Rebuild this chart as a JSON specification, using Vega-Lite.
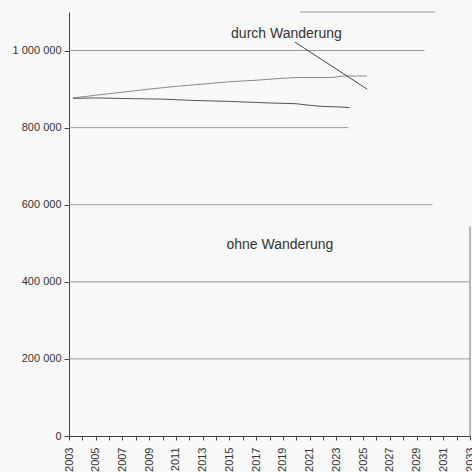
{
  "$schema": "https://vega.github.io/schema/vega-lite/v6.json",
  "width": 401,
  "height": 424,
  "autosize": {"type": "none"},
  "padding": {"left": 69, "top": 12, "right": 2, "bottom": 36},
  "background": "#f8f8f8",
  "config": {
    "view": {"stroke": null},
    "font": "Liberation Sans",
    "axis": {"grid": false, "labelFontSize": 11, "labelColor": "#333", "domainColor": "#444", "tickColor": "#444", "labelFont": "Liberation Sans"},
    "axisX": {"labelAngle": -90, "labelPadding": 7, "labelOverlap": false, "labelFlush": false, "tickSize": 4},
    "axisY": {"labelPadding": 3, "tickSize": 5}
  },
  "datasets": {
    "lines": [
      {"series": "durch Wanderung", "year": 2003.3, "value": 877000},
      {"series": "durch Wanderung", "year": 2005, "value": 884000},
      {"series": "durch Wanderung", "year": 2007, "value": 892000},
      {"series": "durch Wanderung", "year": 2009, "value": 900000},
      {"series": "durch Wanderung", "year": 2011, "value": 907000},
      {"series": "durch Wanderung", "year": 2013, "value": 913000},
      {"series": "durch Wanderung", "year": 2015, "value": 919000},
      {"series": "durch Wanderung", "year": 2017, "value": 923000},
      {"series": "durch Wanderung", "year": 2019, "value": 928000},
      {"series": "durch Wanderung", "year": 2020, "value": 930000},
      {"series": "durch Wanderung", "year": 2022.7, "value": 930000},
      {"series": "durch Wanderung", "year": 2023.5, "value": 934000},
      {"series": "durch Wanderung", "year": 2025.3, "value": 934000},
      {"series": "ohne Wanderung", "year": 2003.3, "value": 876000},
      {"series": "ohne Wanderung", "year": 2005, "value": 877000},
      {"series": "ohne Wanderung", "year": 2008, "value": 875000},
      {"series": "ohne Wanderung", "year": 2010, "value": 874000},
      {"series": "ohne Wanderung", "year": 2012, "value": 871000},
      {"series": "ohne Wanderung", "year": 2015, "value": 868000},
      {"series": "ohne Wanderung", "year": 2018, "value": 864000},
      {"series": "ohne Wanderung", "year": 2020, "value": 862000},
      {"series": "ohne Wanderung", "year": 2021, "value": 858000},
      {"series": "ohne Wanderung", "year": 2022, "value": 855000},
      {"series": "ohne Wanderung", "year": 2023, "value": 854000},
      {"series": "ohne Wanderung", "year": 2024, "value": 852000}
    ],
    "grid": [
      {"y": 1100000, "x1": 2020.3, "x2": 2030.4},
      {"y": 1000000, "x1": 2003, "x2": 2029.6},
      {"y": 800000, "x1": 2003, "x2": 2023.9},
      {"y": 600000, "x1": 2003, "x2": 2030.2},
      {"y": 400000, "x1": 2003, "x2": 2033},
      {"y": 200000, "x1": 2003, "x2": 2033}
    ],
    "border": [
      {"year": 2033, "v1": 0, "v2": 543000}
    ],
    "labels": [
      {"text": "durch Wanderung", "year": 2019.27, "value": 1044000},
      {"text": "ohne Wanderung", "year": 2018.78, "value": 495000}
    ],
    "leader": [
      {"year": 2019.9, "value": 1022000, "year2": 2025.3, "value2": 900000}
    ]
  },
  "layer": [
    {
      "data": {"name": "grid"},
      "mark": {"type": "rule", "color": "#9a9a9a", "strokeWidth": 1},
      "encoding": {
        "x": {
          "field": "x1", "type": "quantitative",
          "scale": {"domain": [2003, 2033], "nice": false, "zero": false},
          "axis": {
            "title": null,
            "values": [2003,2004,2005,2006,2007,2008,2009,2010,2011,2012,2013,2014,2015,2016,2017,2018,2019,2020,2021,2022,2023,2024,2025,2026,2027,2028,2029,2030,2031,2032,2033],
            "tickCount": 60,
            "labelExpr": "datum.value % 2 == 1 ? '' + datum.value : ''",
            "labelOverlap": false,
            "labelBound": false,
            "labelFlush": false,
            "labelAngle": -90
          }
        },
        "x2": {"field": "x2"},
        "y": {
          "field": "y", "type": "quantitative",
          "scale": {"domain": [0, 1100000], "nice": false},
          "axis": {
            "title": null,
            "values": [0, 200000, 400000, 600000, 800000, 1000000],
            "tickCount": 20,
            "labelExpr": "datum.value >= 1000000 ? '1 000 000' : datum.value == 0 ? '0' : (datum.value / 1000) + ' 000'"
          }
        }
      }
    },
    {
      "data": {"name": "border"},
      "mark": {"type": "rule", "color": "#777", "strokeWidth": 1},
      "encoding": {
        "x": {"field": "year", "type": "quantitative", "title": null},
        "y": {"field": "v1", "type": "quantitative", "title": null},
        "y2": {"field": "v2"}
      }
    },
    {
      "data": {"name": "lines"},
      "mark": {"type": "line", "strokeWidth": 1},
      "encoding": {
        "x": {"field": "year", "type": "quantitative", "title": null},
        "y": {"field": "value", "type": "quantitative", "title": null},
        "color": {
          "field": "series", "type": "nominal",
          "scale": {"domain": ["durch Wanderung", "ohne Wanderung"], "range": ["#8a8a8a", "#555555"]},
          "legend": null
        }
      }
    },
    {
      "data": {"name": "leader"},
      "mark": {"type": "rule", "color": "#444", "strokeWidth": 1},
      "encoding": {
        "x": {"field": "year", "type": "quantitative", "title": null},
        "y": {"field": "value", "type": "quantitative", "title": null},
        "x2": {"field": "year2"},
        "y2": {"field": "value2"}
      }
    },
    {
      "data": {"name": "labels"},
      "mark": {"type": "text", "fontSize": 14, "color": "#333", "align": "center", "baseline": "middle"},
      "encoding": {
        "x": {"field": "year", "type": "quantitative", "title": null},
        "y": {"field": "value", "type": "quantitative", "title": null},
        "text": {"field": "text"}
      }
    }
  ]
}
